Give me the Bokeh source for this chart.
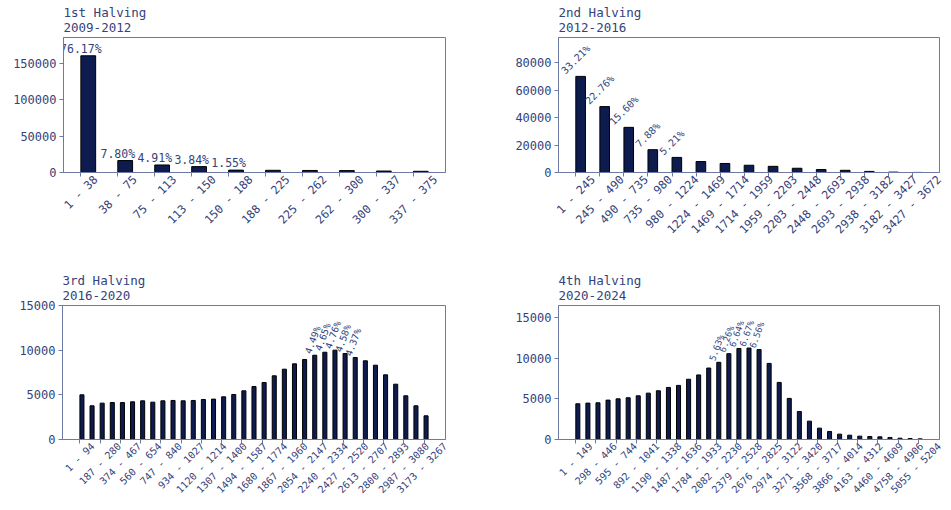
import math
import numpy as np
from bokeh.plotting import figure
from bokeh.layouts import column, row
from bokeh.models import Range1d, FixedTicker, CustomJSTickFormatter, NumeralTickFormatter
from bokeh.core.properties import value
from bokeh.embed import file_html
from bokeh.resources import INLINE

TEXT = "#34437a"
SPINE = "#6d7aa6"
BAR = "#0d1b4f"
MONO = "DejaVu Sans Mono"
CHAR_W = 0.602  # advance width of the monospace font, in em

# ---- 1st halving, 2009-2012 ----
h1_title = "1st Halving\n2009-2012"
h1_bins = ["1 - 38", "38 - 75", "75 - 113", "113 - 150", "150 - 188",
           "188 - 225", "225 - 262", "262 - 300", "300 - 337", "337 - 375"]
h1_counts = [159957, 16380, 10311, 8064, 3255, 3000, 2800, 2600, 2000, 1633]
h1_yticks = [0, 50000, 100000, 150000]

# ---- 2nd halving, 2012-2016 ----
h2_title = "2nd Halving\n2012-2016"
h2_bins = ["1 - 245", "245 - 490", "490 - 735", "735 - 980", "980 - 1224",
           "1224 - 1469", "1469 - 1714", "1714 - 1959", "1959 - 2203",
           "2203 - 2448", "2448 - 2693", "2693 - 2938", "2938 - 3182",
           "3182 - 3427", "3427 - 3672"]
h2_counts = [70206, 48115, 32978, 16658, 11014, 8000, 6600, 5300, 4500,
             3100, 2200, 1600, 800, 280, 49]
h2_yticks = [0, 20000, 40000, 60000, 80000]

# ---- 3rd halving, 2016-2020 (35 bins, every second one labelled) ----
h3_title = "3rd Halving\n2016-2020"
h3_tick_labels = ["1 - 94", "187 - 280", "374 - 467", "560 - 654", "747 - 840",
                  "934 - 1027", "1120 - 1214", "1307 - 1400", "1494 - 1587",
                  "1680 - 1774", "1867 - 1960", "2054 - 2147", "2240 - 2334",
                  "2427 - 2520", "2613 - 2707", "2800 - 2893", "2987 - 3080",
                  "3173 - 3267"]
h3_counts = [5000, 3770, 4070, 4140, 4140, 4220, 4330, 4180, 4330, 4370,
             4330, 4370, 4480, 4520, 4780, 5040, 5450, 5930, 6380, 7130,
             7870, 8470, 8960, 9433, 9769, 10000, 9622, 9181, 8810, 8320,
             7240, 6190, 4890, 3770, 2650]
h3_yticks = [0, 5000, 10000, 15000]

# ---- 4th halving, 2020-2024 (35 bins, every second one labelled) ----
h4_title = "4th Halving\n2020-2024"
h4_tick_labels = ["1 - 149", "298 - 446", "595 - 744", "892 - 1041", "1190 - 1338",
                  "1487 - 1636", "1784 - 1933", "2082 - 2230", "2379 - 2528",
                  "2676 - 2825", "2974 - 3122", "3271 - 3420", "3568 - 3717",
                  "3866 - 4014", "4163 - 4312", "4460 - 4609", "4758 - 4906",
                  "5055 - 5204"]
h4_counts = [4400, 4480, 4520, 4850, 5010, 5140, 5380, 5710, 6000, 6410,
             6660, 7420, 7950, 8800, 9504, 10568, 11209, 11260, 11074, 9370,
             7030, 5060, 3450, 2260, 1400, 990, 660, 530, 410, 370,
             330, 250, 160, 120, 80]
h4_yticks = [0, 5000, 10000, 15000]


def make_panel(title, counts, tick_labels, tick_step, ymax, yticks,
               width, height, borders, tick_fs, pct_fs, pct_angle):
    left, right, top, bottom = borders
    counts = np.asarray(counts, dtype=float)
    n = len(counts)
    bw = 0.4
    span = (n - 1) + bw
    xmin, xmax = -0.05 * span, span * 1.05

    p = figure(width=width, height=height, output_backend="svg",
               toolbar_location=None,
               x_range=Range1d(xmin, xmax), y_range=Range1d(0, ymax),
               min_border_left=left, min_border_right=right,
               min_border_top=top, min_border_bottom=bottom,
               background_fill_color="white", border_fill_color="white")
    p.outline_line_color = SPINE
    p.outline_line_width = 1
    p.xgrid.visible = False
    p.ygrid.visible = False

    p.title.text = title
    p.title.text_font = MONO
    p.title.text_font_size = "12.5px"
    p.title.text_font_style = "normal"
    p.title.text_color = TEXT
    p.title.align = "left"
    p.title.offset = 0
    p.title.standoff = 5

    x = np.arange(n)
    p.vbar(x=x + bw / 2, top=counts, width=bw, fill_color=BAR,
           line_color="black", line_width=1)

    # x axis: tick marks sit on the bin edges (minor ticks); the labelled
    # major ticks are shifted so each rotated label is centred under its mark
    # (kept just inside the range so the ticker does not drop the last one)
    frame_w = width - left - right
    ppu = frame_w / (xmax - xmin)
    tick_idx = list(range(0, n, tick_step))
    c45 = math.cos(math.pi / 4)
    shifted = [min(i + (len(lbl) * CHAR_W * tick_fs * c45 / 2) / ppu, xmax - 0.02)
               for i, lbl in zip(tick_idx, tick_labels)]
    ax = p.xaxis[0]
    ax.ticker = FixedTicker(ticks=shifted, minor_ticks=tick_idx)
    ax.formatter = CustomJSTickFormatter(args=dict(labels=tick_labels),
                                         code="return labels[index];")
    ax.major_label_orientation = math.pi / 4
    ax.major_label_text_font = MONO
    ax.major_label_text_font_size = f"{tick_fs}px"
    ax.major_label_text_color = TEXT
    ax.major_label_standoff = 1
    ax.major_tick_line_color = None
    ax.major_tick_in = 0
    ax.major_tick_out = 4
    ax.minor_tick_line_color = SPINE
    ax.minor_tick_in = 0
    ax.minor_tick_out = 4
    ax.axis_line_color = SPINE

    ay = p.yaxis[0]
    ay.ticker = FixedTicker(ticks=yticks)
    ay.formatter = NumeralTickFormatter(format="0")
    ay.major_label_text_font = MONO
    ay.major_label_text_font_size = "12px"
    ay.major_label_text_color = TEXT
    ay.major_label_standoff = 3
    ay.major_tick_line_color = SPINE
    ay.major_tick_in = 0
    ay.major_tick_out = 4
    ay.minor_tick_line_color = None
    ay.axis_line_color = SPINE

    # share of the five tallest bins
    total = counts.sum()
    top5 = sorted(np.argsort(counts)[::-1][:5])
    pct = counts / total * 100
    lx = [float(i) for i in top5]
    ly = [float(counts[i]) for i in top5]
    lt = [f"{pct[i]:.2f}%" for i in top5]
    th = math.radians(pct_angle)
    if pct_angle == 0:
        p.text(x=lx, y=ly, text=lt, text_align="center", text_baseline="bottom",
               text_font=value(MONO), text_font_size=value(f"{pct_fs}px"),
               text_color=TEXT)
    else:
        lh = 1.17 * pct_fs
        offs = [-(len(t) * CHAR_W * pct_fs * math.sin(th) + lh * math.cos(th)) / 2
                for t in lt]
        p.text(x=lx, y=ly, text=lt, angle=th, text_align="center",
               text_baseline="middle", y_offset=offs,
               text_font=value(MONO), text_font_size=value(f"{pct_fs}px"),
               text_color=TEXT)
    return p


p1 = make_panel(h1_title, h1_counts, h1_bins, 1, 185000, h1_yticks,
                476, 255, (63, 31, 37, 83), 11.5, 11.5, 0)
p2 = make_panel(h2_title, h2_counts, h2_bins, 1, 98600, h2_yticks,
                475, 255, (82, 12, 37, 83), 11.5, 10, 45)
p3 = make_panel(h3_title, h3_counts, h3_tick_labels, 2, 15000, h3_yticks,
                476, 255, (62, 31, 50, 71), 10, 9.5, 70)
p4 = make_panel(h4_title, h4_counts, h4_tick_labels, 2, 16500, h4_yticks,
                475, 255, (82, 12, 50, 71), 10, 9, 70)

layout = column(row(p1, p2), row(p3, p4))
open("out.html", "w").write(file_html(layout, INLINE))
